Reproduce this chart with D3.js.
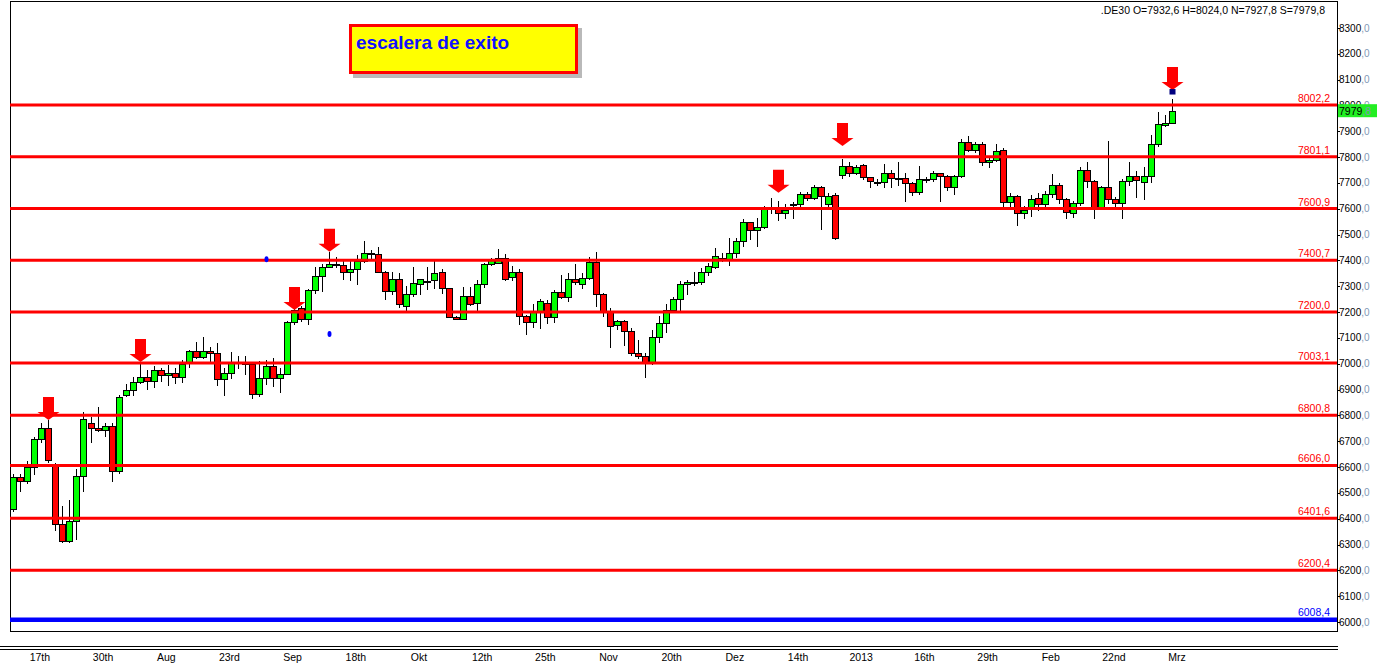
<!DOCTYPE html>
<html>
<head>
<meta charset="utf-8">
<script src="https://d3js.org/d3.v7.min.js"></script>
<style>
body { margin: 0; background: #fff; }
text { font-family: Arial, "Liberation Sans", sans-serif; }
</style>
</head>
<body>
<script>
var width = 1377;
var height = 666;

// daily candles, DE30, Jul 2012 - Mar 2013
var opens = [6437,6561,6546,6599,6707,6750,6609,6379,6312,6392,6565,6769,6750,6742,6758,6583,6878,6897,6930,6950,
  6935,6975,6955,6965,6948,7002,7050,7025,7050,7040,6940,6963,7008,7005,7000,6882,6946,6990,6946,6959,
  7160,7214,7172,7285,7340,7373,7385,7382,7354,7366,7399,7428,7424,7354,7281,7327,7223,7269,7307,7322,
  7324,7354,7292,7182,7172,7262,7236,7309,7385,7391,7411,7334,7356,7186,7160,7204,7234,7180,7276,7257,
  7327,7307,7331,7395,7270,7201,7150,7166,7127,7040,7030,7001,7102,7156,7208,7249,7309,7312,7315,7356,
  7373,7408,7405,7427,7475,7547,7518,7530,7604,7600,7582,7620,7617,7656,7640,7683,7617,7653,7730,7765,
  7737,7769,7722,7705,7703,7737,7718,7718,7699,7664,7714,7714,7737,7727,7686,7727,7857,7827,7849,7780,
  7789,7827,7625,7651,7582,7601,7640,7618,7659,7694,7636,7582,7621,7750,7707,7605,7685,7639,7621,7707,
  7727,7702,7727,7849,7925,7932.6];
var highs = [6573,6573,6623,6715,6772,6782,6614,6449,6472,6594,6812,6795,6831,6770,6770,6879,6920,6950,6999,6975,
  6990,6985,6995,6985,7014,7055,7083,7105,7065,7079,6985,7044,7030,7030,7005,7010,7014,7021,6985,7165,
  7215,7225,7290,7375,7385,7434,7414,7400,7405,7420,7475,7440,7453,7360,7354,7350,7300,7375,7330,7373,
  7404,7365,7292,7185,7298,7298,7325,7390,7410,7444,7425,7380,7365,7190,7230,7250,7245,7285,7343,7350,
  7386,7350,7414,7431,7275,7215,7170,7170,7140,7090,7040,7130,7185,7230,7260,7320,7325,7356,7370,7390,
  7447,7430,7486,7485,7560,7550,7565,7610,7640,7630,7620,7625,7665,7665,7692,7690,7660,7660,7791,7780,
  7770,7775,7725,7715,7773,7750,7782,7740,7705,7765,7725,7745,7740,7730,7730,7870,7883,7860,7860,7800,
  7851,7835,7660,7655,7610,7655,7660,7670,7734,7700,7640,7630,7760,7782,7710,7690,7863,7645,7715,7782,
  7745,7760,7885,7976,7963,8024.0];
var lows = [6426,6504,6534,6569,6692,6614,6353,6305,6305,6317,6504,6693,6737,6717,6543,6573,6870,6875,6920,6900,
  6905,6930,6915,6920,6924,6985,7020,7018,7008,6914,6876,6940,6980,6955,6863,6870,6918,6911,6888,6955,
  7150,7160,7150,7270,7276,7370,7370,7324,7320,7305,7390,7400,7350,7247,7265,7214,7204,7260,7265,7285,
  7290,7270,7178,7168,7170,7225,7201,7295,7380,7385,7320,7320,7150,7111,7140,7135,7155,7156,7250,7240,
  7305,7290,7325,7221,7180,7060,7130,7068,7030,7020,6943,6995,7080,7120,7200,7200,7265,7300,7305,7340,
  7365,7395,7380,7410,7453,7479,7453,7520,7580,7552,7560,7559,7600,7630,7635,7518,7600,7479,7714,7725,
  7730,7710,7679,7690,7679,7679,7690,7627,7650,7655,7700,7705,7627,7670,7653,7720,7820,7815,7765,7756,
  7780,7600,7600,7533,7560,7569,7590,7600,7640,7620,7559,7563,7610,7680,7559,7600,7620,7600,7559,7690,
  7640,7634,7700,7840,7915,7927.8];
var closes = [6561,6546,6599,6707,6750,6626,6379,6312,6392,6565,6785,6750,6742,6758,6583,6870,6897,6930,6950,6935,
  6975,6955,6965,6948,7000,7050,7025,7050,7040,6940,6963,7008,7005,7000,6882,6946,6990,6946,6959,7160,
  7208,7172,7285,7340,7373,7385,7386,7354,7366,7399,7428,7424,7354,7281,7327,7230,7269,7311,7327,7322,
  7350,7292,7182,7172,7262,7230,7309,7385,7400,7411,7327,7356,7186,7160,7204,7243,7180,7276,7257,7327,
  7315,7331,7395,7270,7201,7146,7166,7127,7040,7030,7001,7102,7156,7208,7249,7309,7315,7315,7356,7380,
  7418,7408,7427,7475,7547,7518,7530,7604,7598,7582,7597,7620,7656,7640,7683,7649,7649,7485,7765,7737,
  7760,7722,7707,7705,7737,7718,7718,7699,7664,7714,7714,7737,7727,7686,7727,7857,7827,7849,7780,7789,
  7824,7625,7651,7582,7597,7636,7618,7659,7694,7636,7586,7621,7750,7707,7605,7685,7639,7621,7707,7727,
  7711,7727,7849,7927,7933,7979.8];

// horizontal levels
var levels = [8002.2, 7801.1, 7600.9, 7400.7, 7200.0, 7003.1, 6800.8, 6606.0, 6401.6, 6200.4];
var levelLabels = ["8002,2", "7801,1", "7600,9", "7400,7", "7200,0", "7003,1", "6800,8", "6606,0", "6401,6", "6200,4"];
var blueLevel = 6008.4;
var blueLabel = "6008,4";

// arrows: candle index and tip price
var arrowIdx = [5, 18, 40, 45, 109, 118, 165];
var arrowTip = [6782, 7007, 7208, 7434, 7662, 7843, 8060];

// small blue marks
var dotIdx = [36, 45];
var dotVal = [7405, 7115];
var sqIdx = [165];
var sqVal = [8054];

var xLabels = ["17th", "30th", "Aug", "23rd", "Sep", "18th", "Okt", "12th", "25th", "Nov",
  "20th", "Dez", "14th", "2013", "16th", "29th", "Feb", "22nd", "Mrz"];
var xLabelIdx = [4, 13, 22, 31, 40, 49, 58, 67, 76, 85, 94, 103, 112, 121, 130, 139, 148, 157, 166];

var yTicks = [6000, 6100, 6200, 6300, 6400, 6500, 6600, 6700, 6800, 6900, 7000, 7100,
  7200, 7300, 7400, 7500, 7600, 7700, 7800, 7900, 8000, 8100, 8200, 8300];

var header = ".DE30 O=7932,6 H=8024,0 N=7927,8 S=7979,8";
var lastClose = 7979.8;

var candles = opens.map(function (o, i) {
    return { i: i, o: o, h: highs[i], l: lows[i], c: closes[i] };
});

var svg = d3.select("body").append("svg")
    .attr("width", width)
    .attr("height", height);

var x = d3.scaleLinear()
    .domain([0, 166])
    .range([10.3, 1175.6]);

var y = d3.scaleLinear()
    .domain([6000, 8300])
    .range([622, 28]);

var plotLeft = 10, plotRight = 1337, plotTop = 1, plotBottom = 631;

// frame
svg.append("rect")
    .attr("x", plotLeft + 0.5).attr("y", plotTop + 0.5)
    .attr("width", plotRight - plotLeft).attr("height", plotBottom - plotTop)
    .attr("fill", "none").attr("stroke", "#000");

svg.append("line")
    .attr("x1", 0).attr("x2", plotRight + 1)
    .attr("y1", 646.5).attr("y2", 646.5)
    .attr("stroke", "#000");
svg.append("line")
    .attr("x1", 0).attr("x2", plotRight + 1)
    .attr("y1", 649.5).attr("y2", 649.5)
    .attr("stroke", "#000");

// candles
var cg = svg.append("g");
cg.selectAll("line.wick")
    .data(candles)
    .enter().append("line")
    .attr("class", "wick")
    .attr("x1", function (d) { return Math.round(x(d.i)) + 3.5; })
    .attr("x2", function (d) { return Math.round(x(d.i)) + 3.5; })
    .attr("y1", function (d) { return Math.round(y(d.h)); })
    .attr("y2", function (d) { return Math.round(y(d.l)); })
    .attr("stroke", "#000");

cg.selectAll("rect.body")
    .data(candles)
    .enter().append("rect")
    .attr("class", "body")
    .attr("x", function (d) { return Math.round(x(d.i)) + 0.5; })
    .attr("y", function (d) { return Math.round(y(Math.max(d.o, d.c))) + 0.5; })
    .attr("width", 6)
    .attr("height", function (d) {
        return Math.max(1, Math.round(y(Math.min(d.o, d.c))) - Math.round(y(Math.max(d.o, d.c))));
    })
    .attr("fill", function (d) { return d.c >= d.o ? "#00ff00" : "#ff0000"; })
    .attr("stroke", "#000");

// level lines
svg.selectAll("line.level")
    .data(levels)
    .enter().append("line")
    .attr("class", "level")
    .attr("x1", plotLeft).attr("x2", plotRight)
    .attr("y1", function (d) { return y(d); })
    .attr("y2", function (d) { return y(d); })
    .attr("stroke", "#ff0000")
    .attr("stroke-width", 3);

svg.selectAll("text.levelLabel")
    .data(levels)
    .enter().append("text")
    .attr("class", "levelLabel")
    .attr("x", 1330)
    .attr("y", function (d) { return y(d) - 3; })
    .attr("text-anchor", "end")
    .style("font-size", "10.5px")
    .attr("fill", "#ff0000")
    .text(function (d, i) { return levelLabels[i]; });

svg.append("line")
    .attr("x1", plotLeft).attr("x2", plotRight)
    .attr("y1", y(blueLevel)).attr("y2", y(blueLevel))
    .attr("stroke", "#0000ff")
    .attr("stroke-width", 4.5);
svg.append("text")
    .attr("x", 1330).attr("y", y(blueLevel) - 3.5)
    .attr("text-anchor", "end")
    .style("font-size", "10.5px")
    .attr("fill", "#0000ff")
    .text(blueLabel);

// arrows
var arrowPath = function (cx, tip) {
    return "M" + (cx - 5.5) + "," + (tip - 23) + "L" + (cx + 5.5) + "," + (tip - 23) +
        "L" + (cx + 5.5) + "," + (tip - 8) + "L" + (cx + 11) + "," + (tip - 8) +
        "L" + cx + "," + tip + "L" + (cx - 11) + "," + (tip - 8) +
        "L" + (cx - 5.5) + "," + (tip - 8) + "Z";
};
svg.selectAll("path.arrow")
    .data(arrowIdx)
    .enter().append("path")
    .attr("class", "arrow")
    .attr("d", function (d, i) { return arrowPath(Math.round(x(d)) + 3.5, y(arrowTip[i])); })
    .attr("fill", "#ff0000");

// blue marks
svg.selectAll("ellipse.dot")
    .data(dotIdx)
    .enter().append("ellipse")
    .attr("cx", function (d) { return Math.round(x(d)) + 3.5; })
    .attr("cy", function (d, i) { return y(dotVal[i]); })
    .attr("rx", 2).attr("ry", 3)
    .attr("fill", "#0000ff");
svg.selectAll("rect.sq")
    .data(sqIdx)
    .enter().append("rect")
    .attr("x", function (d) { return Math.round(x(d)) + 0.5; })
    .attr("y", function (d, i) { return y(sqVal[i]) - 2.5; })
    .attr("width", 6).attr("height", 5.5)
    .attr("fill", "#000080");

// right axis
var ax = svg.append("g");
ax.selectAll("line.tick")
    .data(yTicks)
    .enter().append("line")
    .attr("x1", plotRight).attr("x2", plotRight + 3)
    .attr("y1", function (d) { return Math.round(y(d)) + 0.5; })
    .attr("y2", function (d) { return Math.round(y(d)) + 0.5; })
    .attr("stroke", "#000");
var yl = ax.selectAll("text.ylab")
    .data(yTicks)
    .enter().append("text")
    .attr("class", "ylab")
    .attr("x", plotRight + 2)
    .attr("y", function (d) { return y(d) + 3.5; })
    .style("font-size", "10px");
yl.append("tspan").attr("fill", "#000").text(function (d) { return d; });
yl.append("tspan").attr("fill", "#7f9ab6").text(",0");

// last price box
svg.append("rect")
    .attr("x", plotRight + 1).attr("y", y(lastClose) - 6.5)
    .attr("width", width - plotRight - 1).attr("height", 13)
    .attr("fill", "#22ee22");
var lp = svg.append("text")
    .attr("x", plotRight + 2).attr("y", y(lastClose) + 4)
    .style("font-size", "10.5px");
lp.append("tspan").attr("fill", "#000").text("7979");
lp.append("tspan").attr("fill", "#7f9ab6").text(",8");

// header
svg.append("text")
    .attr("x", 1325).attr("y", 14)
    .attr("text-anchor", "end")
    .style("font-size", "10.5px")
    .attr("fill", "#000")
    .text(header);

// bottom labels
svg.selectAll("text.xlab")
    .data(xLabels)
    .enter().append("text")
    .attr("class", "xlab")
    .attr("x", function (d, i) { return x(xLabelIdx[i]) + 1.5; })
    .attr("y", 661)
    .attr("text-anchor", "middle")
    .style("font-size", "10.5px")
    .attr("fill", "#000")
    .text(function (d) { return d; });

// title box
svg.append("rect")
    .attr("x", 353).attr("y", 28)
    .attr("width", 229).attr("height", 50)
    .attr("fill", "#8a8a8a").attr("opacity", 0.6);
svg.append("rect")
    .attr("x", 350.5).attr("y", 25.5)
    .attr("width", 226).attr("height", 47)
    .attr("fill", "#ffff00")
    .attr("stroke", "#ff0000")
    .attr("stroke-width", 3);
svg.append("text")
    .attr("x", 356).attr("y", 49)
    .style("font-size", "19px")
    .style("font-weight", "bold")
    .attr("fill", "#1010ff")
    .text("escalera de exito");
</script>
</body>
</html>
